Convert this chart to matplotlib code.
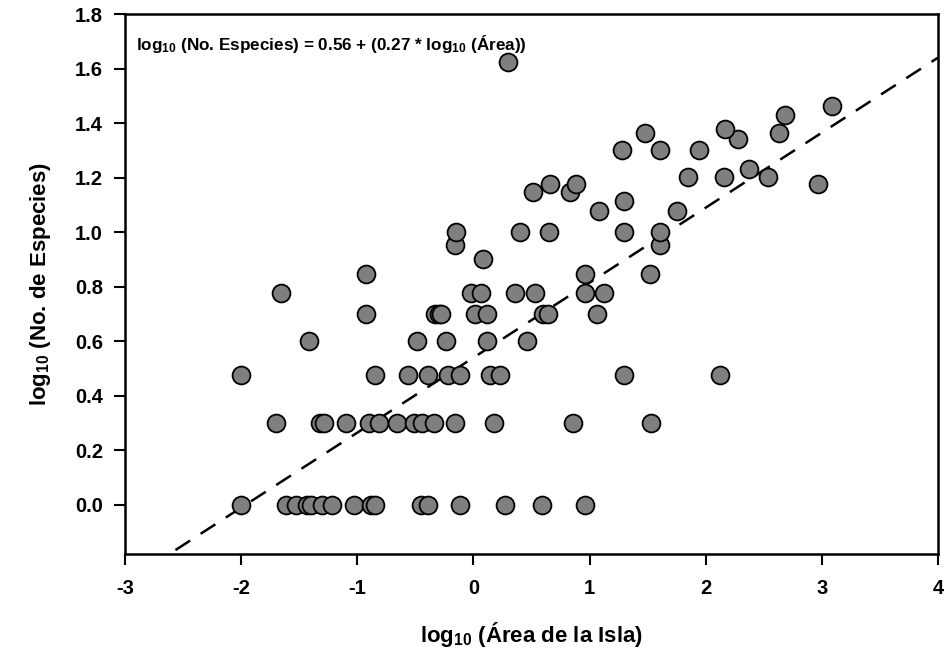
#!/usr/bin/env python
# coding: utf-8

from matplotlib import pyplot as plt

plt.rcParams['font.family'] = ['Liberation Sans', 'DejaVu Sans']
plt.rcParams['font.weight'] = 'bold'
plt.rcParams['axes.labelweight'] = 'bold'
plt.rcParams['axes.unicode_minus'] = False
plt.rcParams['mathtext.fontset'] = 'custom'
plt.rcParams['mathtext.bf'] = 'Liberation Sans:bold'
plt.rcParams['mathtext.rm'] = 'Liberation Sans:bold'
plt.rcParams['mathtext.default'] = 'bf'

# log10(area) of each island, grouped by log10(no. of species)
log_species = [0.0, 0.301, 0.477, 0.602, 0.699, 0.778, 0.845, 0.903, 0.954,
               1.0, 1.079, 1.114, 1.146, 1.176, 1.204, 1.230, 1.301, 1.342,
               1.362, 1.380, 1.431, 1.462, 1.623]
log_area = [
    [-2.0, -1.61, -1.53, -1.43, -1.40, -1.30, -1.22, -1.03, -0.88, -0.85,
     -0.45, -0.39, -0.12, 0.27, 0.59, 0.96],
    [-1.70, -1.32, -1.29, -1.10, -0.90, -0.81, -0.66, -0.51, -0.44, -0.34,
     -0.16, 0.18, 0.86, 1.53],
    [-2.0, -0.85, -0.56, -0.39, -0.22, -0.115, 0.14, 0.23, 1.30, 2.12],
    [-1.42, -0.49, -0.24, 0.12, 0.46],
    [-0.925, -0.33, -0.30, -0.28, 0.01, 0.12, 0.60, 0.64, 1.06],
    [-1.66, -0.02, 0.066, 0.36, 0.53, 0.96, 1.12],
    [-0.925, 0.96, 1.52],
    [0.08],
    [-0.16, 1.61],
    [-0.15, 0.40, 0.65, 1.30, 1.61],
    [1.08, 1.75],
    [1.30],
    [0.51, 0.83],
    [0.66, 0.885, 2.97],
    [1.85, 2.16, 2.54],
    [2.37],
    [1.28, 1.61, 1.94],
    [2.28],
    [1.48, 2.63],
    [2.17],
    [2.68],
    [3.09],
    [0.30],
]

# regression line as drawn
intercept = 0.54
slope = 0.275
line_x = [-3, 4]

xs = []
ys = []
for s, areas in zip(log_species, log_area):
    for a in areas:
        xs.append(a)
        ys.append(s)

fig = plt.figure(figsize=(9.5, 6.55), dpi=100)
ax = fig.add_axes([0.1316, 0.1542, 0.8558, 0.8244])

ax.scatter(xs, ys, s=165, facecolor='#7f7f7f', edgecolor='black',
           linewidth=1.3, zorder=3)
ax.plot(line_x, [intercept + slope * v for v in line_x], '--', color='black',
        linewidth=1.8, dashes=(7, 5), zorder=2)

ax.set_xlim(-3, 4)
ax.set_ylim(-0.18, 1.8)
ax.set_xticks(range(-3, 5))
ax.set_yticks([0.0, 0.2, 0.4, 0.6, 0.8, 1.0, 1.2, 1.4, 1.6, 1.8])
ax.set_yticklabels(['%.1f' % v for v in ax.get_yticks()])
ax.tick_params(direction='out', length=8, width=1.5, labelsize=14.5)
ax.tick_params(axis='x', pad=10)
ax.tick_params(axis='y', pad=8)
for sp in ax.spines.values():
    sp.set_linewidth(1.8)

ax.set_xlabel(r'log$_{10}$ (Área de la Isla)', fontsize=16, labelpad=16)
ax.set_ylabel(r'log$_{10}$ (No. de Especies)', fontsize=16, labelpad=16)
ax.text(0.014, 0.965,
        r'log$_{10}$ (No. Especies) = 0.56 + (0.27 * log$_{10}$ (Área))',
        transform=ax.transAxes, fontsize=12.3, va='top', ha='left')

fig.savefig('out.png', dpi=100)
